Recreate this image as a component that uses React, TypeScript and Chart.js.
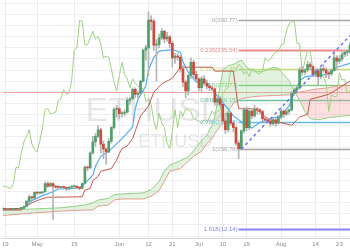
import React, { useEffect, useRef } from "react";
import { Chart, registerables } from "chart.js";

Chart.register(...registerables);

// Daily ETH/USD candles, Apr 18 2017 .. Aug 27 2017 (day numbers counted from May 1 = 0)
const firstDay = -13;

const open = [
  48.5, 50.0, 47.9, 49.4, 48.3, 48.4, 48.3, 49.9, 50.0, 53.3, 63.0, 71.0, 69.0,
  79, 77.5, 77.8, 80, 95, 90, 95, 90, 88.5, 88, 88.5, 88, 86, 88.5, 89.5, 90, 87.5, 86, 95, 124, 123, 150, 170, 180, 192, 166, 157, 152, 171, 196, 229,
  230, 221, 222, 224, 245, 248, 265, 256, 258, 280, 336, 340, 390, 388, 345, 346, 358, 370, 356, 360, 348, 322, 325, 323, 302, 278, 262, 290, 314, 292,
  284, 268, 284, 276, 271, 268, 266, 242, 248, 238, 208, 192, 222, 204, 196, 168, 158, 190, 228, 196, 226, 217, 230, 228, 225, 212, 210, 208, 203, 210, 204,
  215, 226, 220, 225, 228, 258, 264, 268, 300, 296, 300, 310, 306, 292, 298, 288, 302, 300, 294, 293, 299, 322, 316, 320, 328, 332, 333,
];
const high = [
  50.8, 50.3, 50.5, 49.6, 49.2, 49.2, 50.1, 51.0, 54.0, 63.5, 74.0, 72.0, 80.0,
  80.5, 79, 81, 98, 98, 97, 96, 91, 91, 90, 90, 88.5, 89, 90.5, 92, 91, 89, 96, 127, 127, 152, 180, 185, 200, 195, 172, 160, 176, 198, 232, 236,
  232, 225, 228, 250, 250, 268, 268, 262, 282, 338, 345, 405, 398, 392, 355, 365, 375, 372, 368, 362, 352, 330, 330, 326, 308, 282, 292, 322, 318, 298,
  286, 288, 290, 282, 276, 272, 268, 252, 252, 240, 222, 226, 224, 208, 198, 172, 192, 232, 234, 230, 228, 236, 232, 230, 227, 216, 214, 212, 214, 212, 218,
  230, 228, 228, 230, 262, 268, 272, 305, 306, 302, 316, 314, 308, 302, 300, 304, 310, 304, 298, 302, 330, 326, 326, 332, 336, 336, 350,
];
const low = [
  48.0, 47.5, 47.5, 47.7, 47.1, 47.5, 48.0, 49.2, 49.8, 53.0, 60.0, 66.0, 68.0,
  75, 76, 77, 79, 88, 89, 30, 86, 86, 86.5, 86, 82, 84, 87, 86, 85, 84, 85, 94, 118, 122, 148, 162, 178, 150, 140, 130, 150, 168, 193, 215,
  212, 215, 217, 222, 238, 246, 250, 250, 256, 278, 318, 290, 372, 335, 280, 340, 355, 350, 352, 340, 305, 312, 318, 296, 270, 250, 255, 285, 285, 280,
  262, 260, 272, 266, 262, 262, 236, 235, 234, 202, 185, 188, 200, 188, 164, 140, 156, 186, 190, 192, 212, 215, 220, 220, 208, 205, 205, 198, 200, 198, 202,
  212, 214, 218, 220, 226, 254, 260, 266, 290, 292, 296, 300, 288, 288, 272, 284, 296, 286, 284, 290, 298, 300, 312, 316, 324, 326, 330,
];
const close = [
  50.0, 47.9, 49.4, 48.3, 48.4, 48.3, 49.9, 50.0, 53.3, 63.0, 71.0, 69.0, 79.0,
  77.5, 77.8, 80, 95, 90, 95, 90, 88.5, 88, 88.5, 88, 86, 88.5, 89.5, 90, 87.5, 86, 95, 124, 123, 150, 170, 180, 192, 166, 157, 152, 171, 196, 229, 230,
  221, 222, 224, 245, 248, 265, 256, 258, 280, 336, 340, 390, 388, 345, 346, 358, 370, 356, 360, 348, 322, 325, 323, 302, 278, 262, 290, 314, 292, 284,
  268, 284, 276, 271, 268, 266, 242, 248, 238, 208, 192, 222, 204, 196, 168, 158, 190, 228, 196, 226, 217, 230, 228, 225, 212, 210, 208, 203, 210, 204, 215,
  226, 220, 225, 228, 258, 264, 268, 300, 296, 300, 310, 306, 292, 298, 288, 302, 300, 294, 293, 299, 322, 316, 320, 328, 332, 333, 345,
];

// Lagging span (one value per candle day)
const chikou = [
  89.5, 90, 87.5, 86, 95, 124, 123, 150, 170, 180, 192, 166, 157, 152, 171, 196, 229, 230,
  221, 222, 224, 245, 248, 265, 256, 258, 280, 336, 340, 390, 388, 345, 346, 358, 370, 356, 360, 348, 322, 325, 323, 302, 278, 262, 290, 314, 292, 284,
  268, 284, 276, 271, 268, 266, 242, 248, 238, 208, 192, 222, 204, 196, 168, 158, 190, 228, 196, 226, 217, 230, 228, 225, 212, 210, 208, 203, 210, 204, 215,
  226, 220, 225, 228, 258, 264, 268, 300, 296, 300, 310, 306, 292, 298, 288, 302, 300, 294, 293, 299, 322, 316, 320, 328, 332, 333, 345,
  347, 371, 383, 388, 388, 348, 348, 295, 317, 334, 335, 300, 296, 293, 294, 287, 275, 225, 255, 252, 252, 295, 282, 283, 257, 263,
];

const tenkanDays = [-13, -6, -4, -2, 2, 6, 8, 14, 17, 19, 21, 22, 24, 27, 29, 32, 36, 37, 38, 41, 42, 44, 46, 51, 54, 55, 56, 57, 60, 62, 64, 66, 69, 72, 74, 78, 81, 84, 89, 92, 95, 97, 99, 101, 105, 110, 113, 118];
const tenkan = [49, 49, 55, 64, 73, 80, 85, 86, 90, 100, 110, 126, 144, 153, 162, 176, 197, 230, 247, 271, 300, 323, 334, 337, 332, 315, 305, 296, 278, 283, 278, 265, 247, 230, 217, 203, 195, 205, 213, 217, 235, 260, 280, 288, 290, 292, 305, 312];

const kijunDays = [-13, -6, -4, -2, 1, 4, 17, 18, 20, 21, 23, 24, 28, 30, 31, 32, 34, 36, 39, 42, 44, 47, 51, 54, 66, 67, 74, 75, 76, 81, 84, 87, 91, 96, 99, 102, 103, 110, 114, 118];
const kijun = [47, 47, 54, 60, 66, 70, 71, 83, 86, 100, 108, 117, 122, 137, 149, 158, 163, 176, 217, 235, 260, 275, 285, 305, 305, 298, 298, 262, 230, 230, 224, 212, 206, 200, 215, 220, 247, 256, 268, 280];

const cloudDays = [-13, -1, 9, 18, 21, 23, 27, 29, 32, 40, 43, 46, 48, 50, 54, 57, 59, 62, 64, 66, 67, 69, 70, 72, 74, 77, 79, 82, 85, 89, 91, 93, 95, 96, 97, 99, 101, 103, 106, 110, 114, 118];
const spanA = [47, 49, 51, 56, 60, 65, 68, 75, 76, 78, 84, 99, 117, 128, 136, 143, 154, 172, 182, 200, 215, 270, 300, 308, 310, 318, 305, 297, 297, 305, 303, 292, 281, 271, 262, 245, 225, 212, 210, 214, 216, 218];
const spanB = [37, 42, 45, 47, 47, 54, 56, 65, 67, 67, 72, 82, 99, 117, 122, 135, 144, 153, 167, 176, 185, 198, 205, 225, 240, 248, 250, 252, 253, 254, 254, 255, 255, 256, 257, 260, 262, 264, 266, 268, 272, 272];

const fibStartDay = 76;
const fibRatios = ["0", "0.236", "0.382", "0.5", "0.618", "0.786", "1", "1.618"];
const fibPrices = [390.77, 335.54, 301.38, 273.77, 246.15, 206.84, 156.76, 12.14];
const fibColors = ["#a6a6a6", "#ee8a8a", "#c4dc72", "#80cc80", "#6cc4a0", "#6cb8e4", "#a6a6a6", "#8484f2"];
const fibWidths = [1.5, 2, 1.5, 1.5, 1.5, 1.5, 1.5, 2];

const trendDays = [77, 118];
const trendPrices = [157, 362];

const hLinePrice = 260;

const tickDays = [-12, 0, 14, 31, 42, 51, 61, 70, 79, 92, 105, 114];
const tickLabels = ["19", "May", "15", "Jun", "12", "21", "Jul", "10", "19", "Aug", "14", "23"];
const priceGrid = [0, 20, 40, 60, 80, 100, 120, 140, 160, 180, 200, 220, 240, 260, 280, 300, 320, 340, 360, 380, 400, 420];

const GREEN = "#4f9f6b";
const RED = "#cf4a3b";
const FONT = '"Liberation Sans", Arial, sans-serif';

const overlay = {
  id: "overlay",
  beforeDatasetsDraw(chart: any) {
    const { ctx, chartArea, scales } = chart;
    const x = scales.x;
    const y = scales.y;
    ctx.save();
    // watermark
    ctx.fillStyle = "rgba(170,170,170,0.28)";
    ctx.textAlign = "center";
    ctx.textBaseline = "alphabetic";
    ctx.font = `34px ${FONT}`;
    ctx.fillText("ETHUSD", chartArea.left + chartArea.width * 0.44, chartArea.top + chartArea.height * 0.505);
    ctx.font = `18px ${FONT}`;
    ctx.fillText("ETHUSD", chartArea.left + chartArea.width * 0.497, chartArea.top + chartArea.height * 0.615);

    // horizontal price line
    const hy = Math.round(y.getPixelForValue(hLinePrice)) + 0.5;
    ctx.strokeStyle = "rgba(236,120,120,0.65)";
    ctx.lineWidth = 1;
    ctx.beginPath();
    ctx.moveTo(chartArea.left, hy);
    ctx.lineTo(chartArea.right, hy);
    ctx.stroke();

    // fibonacci levels
    const sx = x.getPixelForValue(fibStartDay);
    ctx.font = `6px ${FONT}`;
    ctx.textAlign = "right";
    ctx.textBaseline = "middle";
    fibPrices.forEach((p, i) => {
      const py = Math.round(y.getPixelForValue(p)) + 0.5;
      ctx.strokeStyle = fibColors[i];
      ctx.lineWidth = fibWidths[i];
      ctx.beginPath();
      ctx.moveTo(sx, py);
      ctx.lineTo(chartArea.right, py);
      ctx.stroke();
      ctx.fillStyle = fibColors[i];
      ctx.fillText(`${fibRatios[i]}(${p.toFixed(2)})`, sx - 1, py);
    });
    ctx.restore();
  },
};

export default function App() {
  const ref = useRef<HTMLCanvasElement>(null);
  useEffect(() => {
    document.body.style.margin = "0";
    const canvas = ref.current!;
    const days = close.map((_, i) => firstDay + i);
    const bodyColors = close.map((c, i) => (c >= open[i] ? GREEN : RED));
    const line = (xs: number[], ys: number[]) => xs.map((d, i) => ({ x: d, y: ys[i] }));
    const chart = new Chart(canvas, {
      type: "bar",
      data: {
        datasets: [
          {
            type: "line",
            label: "Span A",
            data: line(cloudDays, spanA),
            borderColor: "#92d184",
            borderWidth: 1,
            pointRadius: 0,
            fill: { target: "+1", above: "rgba(150,210,140,0.28)", below: "rgba(246,160,160,0.32)" },
            order: 5,
          },
          {
            type: "line",
            label: "Span B",
            data: line(cloudDays, spanB),
            borderColor: "#e99a8e",
            borderWidth: 1,
            pointRadius: 0,
            fill: false,
            order: 5,
          },
          {
            type: "line",
            label: "Chikou",
            data: line(days, chikou),
            borderColor: "#9fd283",
            borderWidth: 1,
            pointRadius: 0,
            fill: false,
            order: 4,
          },
          {
            type: "line",
            label: "Kijun",
            data: line(kijunDays, kijun),
            borderColor: "#c45a4e",
            borderWidth: 1,
            pointRadius: 0,
            fill: false,
            order: 3,
          },
          {
            type: "line",
            label: "Tenkan",
            data: line(tenkanDays, tenkan),
            borderColor: "#55adf0",
            borderWidth: 1.2,
            pointRadius: 0,
            fill: false,
            order: 3,
          },
          {
            type: "bar",
            label: "Wicks",
            data: days.map((d, i) => ({ x: d, y: [low[i], high[i]] })) as any,
            backgroundColor: "#b4b4b4",
            barThickness: 1,
            grouped: false,
            order: 2,
          },
          {
            type: "bar",
            label: "Bodies",
            data: days.map((d, i) => ({ x: d, y: [open[i], close[i]] })) as any,
            backgroundColor: bodyColors,
            barThickness: 2,
            minBarLength: 1,
            grouped: false,
            order: 1,
          },
          {
            type: "line",
            label: "Trend",
            data: line(trendDays, trendPrices),
            borderColor: "#6d6df5",
            borderWidth: 1.5,
            borderDash: [3, 3],
            pointRadius: 0,
            fill: false,
            order: 0,
          },
        ] as any,
      },
      options: {
        animation: false,
        responsive: false,
        devicePixelRatio: 1,
        layout: { padding: 0 },
        plugins: { legend: { display: false }, tooltip: { enabled: false } },
        events: [],
        scales: {
          x: {
            type: "linear",
            min: -13,
            max: 118,
            offset: false,
            grid: { color: "#ececec", drawTicks: false, offset: false },
            border: { color: "#d4d4d4" },
            ticks: {
              font: { size: 6, family: FONT },
              color: "#8a8a8a",
              padding: 2,
              maxRotation: 0,
              autoSkip: false,
              callback: (v: any) => {
                const k = tickDays.indexOf(Number(v));
                return k >= 0 ? tickLabels[k] : "";
              },
            },
            afterBuildTicks: (axis: any) => {
              axis.ticks = tickDays.map((v) => ({ value: v }));
            },
          },
          y: {
            type: "linear",
            min: -5,
            max: 426.5,
            grid: { color: "#eeeeee", drawTicks: false },
            border: { display: false },
            ticks: { display: false },
            afterBuildTicks: (axis: any) => {
              axis.ticks = priceGrid.map((v) => ({ value: v }));
            },
            afterFit: (axis: any) => {
              axis.width = 0;
            },
          },
        },
      } as any,
      plugins: [overlay],
    });
    return () => chart.destroy();
  }, []);
  return (
    <div style={{ width: 350, height: 250 }}>
      <canvas ref={ref} width={350} height={250} style={{ display: "block" }} />
    </div>
  );
}
